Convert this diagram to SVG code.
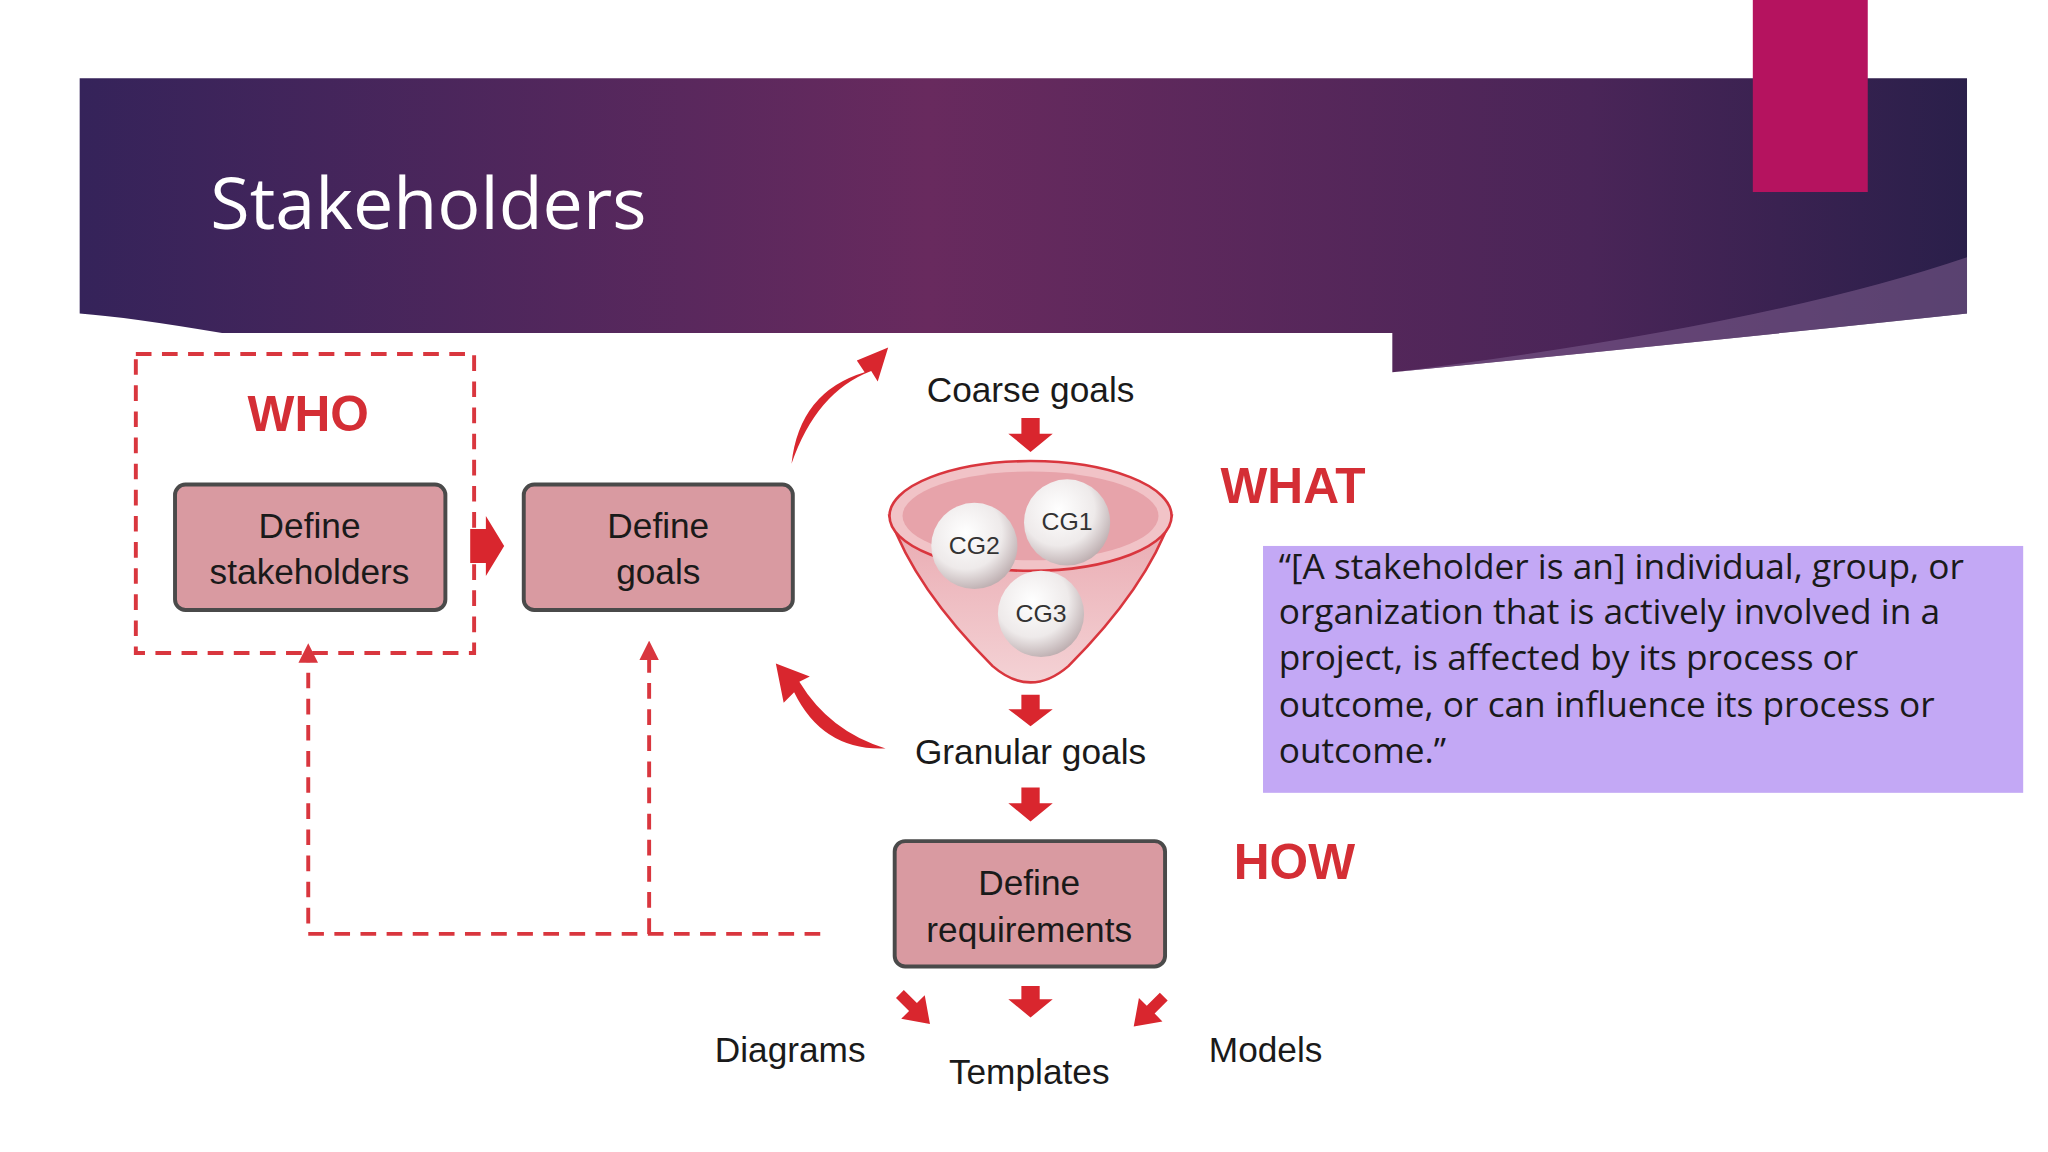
<svg xmlns="http://www.w3.org/2000/svg" width="2048" height="1152" viewBox="0 0 2048 1152">
<defs>
<linearGradient id="hg" x1="0" y1="0" x2="1" y2="0">
<stop offset="0" stop-color="#35235a"/><stop offset="0.45" stop-color="#682a5e"/><stop offset="0.8" stop-color="#4a2558"/><stop offset="1" stop-color="#2a1f4a"/>
</linearGradient>
<radialGradient id="ball" cx="0.4" cy="0.35" r="0.7"><stop offset="0" stop-color="#ffffff"/><stop offset="0.6" stop-color="#eeeaea"/><stop offset="1" stop-color="#b9a9ab"/></radialGradient>
<linearGradient id="fun" x1="0" y1="0" x2="0" y2="1"><stop offset="0" stop-color="#e9a9b0"/><stop offset="1" stop-color="#f4d2d5"/></linearGradient>
<marker id="ah" viewBox="0 0 10 10" refX="5" refY="5" markerWidth="5" markerHeight="5" orient="auto"><path d="M0,0 L10,5 L0,10 Z" fill="#d9363e"/></marker>
<style>
.box{fill:#d99aa1;stroke:#4a4a4a;stroke-width:3}
.t{font-family:"Liberation Sans",Arial,sans-serif;font-size:27px;fill:#1a1a1a;text-anchor:middle}
.big{font-family:"Liberation Sans",Arial,sans-serif;font-size:38px;font-weight:bold;fill:#d42e35;text-anchor:middle}
.cg{font-family:"Liberation Sans",Arial,sans-serif;font-size:19px;fill:#333;text-anchor:middle}
.dash{fill:none;stroke:#d9363e;stroke-width:3;stroke-dasharray:12 8}
.ra{fill:#d9262e}
.q{font-family:"Open Sans","Noto Sans",sans-serif;font-size:27px;fill:#1a1a1a}
</style>
</defs>
<rect width="2048" height="1152" fill="#ffffff"/>
<g transform="scale(1.30612)">
<g id="header">
<path d="M61,60 H1506 V240 Q1300,262 1066,285 V255 H170 Q100,243 61,240 Z" fill="url(#hg)"/>
<path d="M1066,285 Q1300,262 1506,240 V197 Q1350,250 1066,285 Z" fill="#7a5a8a" opacity="0.6"/>
<rect x="1342" y="0" width="88" height="147" fill="#b5135f"/>
<text x="161" y="175" font-family="Open Sans,Noto Sans,sans-serif" font-size="55" fill="#ffffff">Stakeholders</text>
</g>
<g id="who">
<rect x="104" y="271" width="259" height="229" fill="#ececec" class="dash"/>
<text x="236" y="330" class="big">WHO</text>
</g>
<g id="stakeholders"><rect x="134" y="371" width="207" height="96" rx="8" class="box"/><text x="237" y="412" class="t">Define</text><text x="237" y="447" class="t">stakeholders</text></g>
<g id="goals"><rect x="401" y="371" width="206" height="96" rx="8" class="box"/><text x="504" y="412" class="t">Define</text><text x="504" y="447" class="t">goals</text></g>
<g id="coarse"><text x="789" y="308" class="t">Coarse goals</text></g>
<g id="funnel">
<path d="M681,395 Q700,450 760,510 Q789,535 818,510 Q878,450 897,395 Z" fill="url(#fun)" stroke="#d9363e" stroke-width="2"/>
<ellipse cx="789" cy="395" rx="108" ry="42" fill="#f1c3c7" stroke="#d9363e" stroke-width="2"/>
<ellipse cx="789" cy="395" rx="98" ry="34" fill="#e7a3aa"/>
<circle cx="746" cy="418" r="33" fill="url(#ball)"/><text x="746" y="424" class="cg">CG2</text>
<circle cx="817" cy="400" r="33" fill="url(#ball)"/><text x="817" y="406" class="cg">CG1</text>
<circle cx="797" cy="470" r="33" fill="url(#ball)"/><text x="797" y="476" class="cg">CG3</text>
</g>
<g id="granular"><text x="789" y="585" class="t">Granular goals</text></g>
<g id="requirements"><rect x="685" y="644" width="207" height="96" rx="8" class="box"/><text x="788" y="685" class="t">Define</text><text x="788" y="721" class="t">requirements</text></g>
<g id="labels">
<text x="990" y="385" class="big">WHAT</text>
<text x="991" y="673" class="big">HOW</text>
<text x="605" y="813" class="t">Diagrams</text>
<text x="788" y="830" class="t">Templates</text>
<text x="969" y="813" class="t">Models</text>
</g>
<g id="quote">
<rect x="967" y="418" width="582" height="189" fill="#c3a8f5"/>
<text class="q"><tspan x="979" y="443">“[A stakeholder is an] individual, group, or</tspan><tspan x="979" y="478">organization that is actively involved in a</tspan><tspan x="979" y="513">project, is affected by its process or</tspan><tspan x="979" y="549">outcome, or can influence its process or</tspan><tspan x="979" y="584">outcome.”</tspan></text>
</g>
<g id="connectors">
<path class="ra" d="M360,405 h12 v-10 l14,23 l-14,23 v-10 h-12 Z"/>
<path class="ra" d="M606,355 Q612,300 662,285 L656,276 L680,266 L672,292 L667,284 Q625,300 606,355 Z"/>
<path class="ra" d="M678,573 Q630,575 608,530 L600,538 L594,508 L620,518 L612,522 Q635,560 678,573 Z"/>
<path class="ra" d="M782,320 h14 v12 h10 l-17,14 l-17,-14 h10 Z"/>
<path class="ra" d="M782,532 h14 v11 h10 l-17,13 l-17,-13 h10 Z"/>
<path class="ra" d="M782,603 h14 v12 h10 l-17,14 l-17,-14 h10 Z"/>
<path class="ra" d="M782,755 h14 v10 h10 l-17,14 l-17,-14 h10 Z"/>
<path class="ra" d="M692,758 l10,10 l6,-6 l4,22 l-22,-4 l6,-6 l-10,-10 Z"/>
<path class="ra" d="M888,760 l-10,10 l-6,-6 l-4,22 l22,-4 l-6,-6 l10,-10 Z"/>
<path class="dash" d="M628,715 H236 V500" marker-end="url(#ah)"/>
<path class="dash" d="M497,715 V498" marker-end="url(#ah)"/>
</g>
</g>
</svg>
